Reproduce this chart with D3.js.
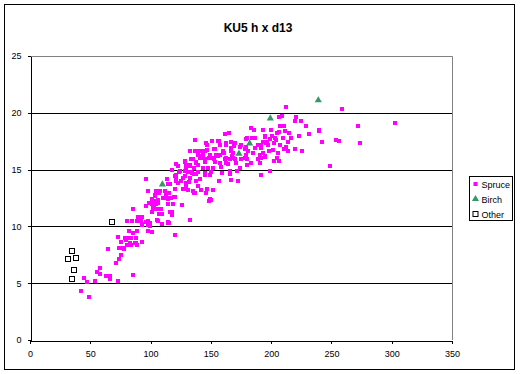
<!DOCTYPE html>
<html>
<head>
<meta charset="utf-8">
<script src="https://cdn.jsdelivr.net/npm/d3@7"></script>
<style>
  body { margin: 0; background: #fff; }
  text { font-family: "Liberation Sans", Arial, sans-serif; }
</style>
</head>
<body>
<svg id="chart" width="520" height="374"></svg>
<script>
// KU5 h x d13 scatter

var chartTitle = 'KU5 h x d13';
var seriesNames = ['Spruce', 'Birch', 'Other'];
var xTicks = [0, 50, 100, 150, 200, 250, 300, 350];
var yTicks = [0, 5, 10, 15, 20, 25];

// [d13, h]
var spruce = [
  [42.3,4.3],[48.9,3.8],[44.8,5.5],[47.3,5.1],[53.9,5.2],[55.6,6.0],[58,6.3],[58,5.8],[63,5.6],[66.3,5.6],
  [66.3,5.4],[73,5.2],[71.3,6.8],[73.8,7.1],[75.5,7.5],[73.8,8.1],[64.7,8.0],[75.5,8.6],[77.9,8.0],[80.4,8.4],
  [80.4,9.0],[83.7,8.4],[83.7,9.0],[82.1,9.6],[85.4,9.4],[87.9,9.0],[87.1,8.5],[88.7,8.4],[92.9,8.6],[85.4,5.7],
  [73,9.1],[88.7,9.6],[80.4,10.5],[84.6,10.5],[88.7,10.5],[89.6,10.8],[92.9,10.8],[92.9,10.2],[98.2,10.5],[98.2,10.2],
  [98.2,9.6],[101.2,9.5],[99.5,10.2],[85.4,11.5],[96.5,11.8],[98.7,12.1],[101.2,12.0],[101.5,11.3],[102.8,11.5],[103.7,12.2],
  [106.6,11.5],[109.5,10.2],[108.6,11.1],[106.6,11.1],[106.1,12.1],[103.7,12.8],[110.3,12.5],[112.8,12.8],[114.4,12.0],[115.3,10.3],
  [117.7,11.3],[118.5,12.0],[120.2,12.6],[120.2,9.2],[126,11.9],[132.7,10.6],[136,12.9],[148.4,12.2],[150.1,12.3],[146,12.9],
  [116,12.5],[107,12.9],[97.8,13.1],
  [104,12.8],[107.8,13.1],[114.4,13.7],[113.1,12.8],[100.9,12.4],[103.4,12.2],[99.3,12.1],[106.5,12.3],[114.4,12.4],[102.8,11.6],
  [108.9,11.5],[109.8,11.1],[106.5,10.5],[92.4,10.5],[96.5,10.4],[97.8,10.1],[93.2,10.1],[99.3,10.0],[109.8,10.2],[114.2,10.4],
  [85.2,9.4],[78.8,9.0],[84.1,9.0],[87.6,9.0],[79.9,8.8],[82.7,8.5],[88.2,8.5],[77.1,8.1],[96.5,14.2],[113.6,14.2],
  [121,15.5],[128.5,15.8],[134.3,15.9],[139.3,16.3],[143,16],[144.9,15.9],[148.4,16],[152.3,15.9],[157.3,16.3],[161.4,15.9],
  [165.6,15.9],[169.7,15.9],[175.3,15.9],[180,15.9],[129.1,15.4],[132.4,15.3],[139.3,15.4],[143.5,15.1],[147.6,15.1],[151.7,15.1],
  [158.1,15.2],[164.2,15.5],[174,15.1],[180,15.4],[118.1,15],[124.1,14.9],[128.3,14.9],[133.8,14.8],[139.3,14.8],[144.9,14.7],
  [149.8,14.8],[159.5,14.7],[166.2,14.9],[172,14.9],[120.8,14.5],[126.9,14.3],[132.4,14.3],[136,14.6],[140.7,14.2],[144.9,14.5],
  [149.6,14.5],[156.7,14],[165.6,14.6],[167,14.1],[172.5,14],[120.8,14.2],[116.4,13.7],[122.7,13.8],[129.7,13.8],[127.4,13.3],
  [131,13.2],[135.2,13.1],[136.6,12.9],[142.1,13.2],[146.8,13.3],[151.7,13.2],[145.7,12.9],[149,12.4],[104.8,13.1],[111.7,13.1],
  [103.4,12.7],[115.3,12.9],[117.2,12.5],[111.7,12.5],[119.2,12.6],[101.5,12.2],[104.8,12],[118.6,12],[102,11.6],[106.1,11.5],
  [116.4,11.3],[118.1,11],[105.3,10.6],[114.4,10.3],[99.8,10.3],
  [136.9,17.6],[132.7,16.6],[138.8,16.6],[128.5,15.7],[133.8,15.9],[138,15.6],[123,15.3],[132.4,15.4],[129.7,15.1],[135.7,15.1],
  [117.7,15],[123.6,14.8],[131,14.8],[134.7,14.7],[120.2,14.4],[128.3,14.4],[138,14.6],[120.8,14],[125.5,14],[131.8,13.9],
  [137.4,14],[115.8,13.7],[129.1,13.6],[139.3,13.6],[120,13.3],[126.9,13.3],
  [164.8,18.2],[161.7,18.1],[146.3,17.3],[151.2,17.5],[156.7,17.5],[167,17.4],[169.7,17.3],[179.4,17.7],[136.6,16.6],[142.1,16.6],
  [146.8,16.7],[152.3,16.8],[157.3,17.2],[162.8,17.3],[167,16.9],[174.5,17],[143.5,16.3],[149,16.3],[154.6,16.3],[160.6,16.5],
  [168.3,16.5],[135.2,15.9],[140.7,16],[151.7,16],[162.8,16],[168.3,16],[179.4,16.3],[178,16.8],
  [183.6,18.7],[185.7,18.5],[193.2,18.5],[194.6,17.9],[179.7,17.8],[184.1,17.8],[186.9,17.8],[155.8,17.5],[175.3,17.2],[189,17.2],
  [196,17.3],[146.5,17.2],[162.8,17.2],[169.2,17.1],[179.4,17],[186.3,16.9],[191.9,16.9],[140.1,16.6],[145,16.6],[153.7,16.8],
  [160,16.6],[166.4,16.6],[180.8,16.6],[184.9,16.5],[190.5,16.3],[194.6,16.2],[142.1,16.2],[155.8,16.2],[167.5,16.2],[178,16],
  [189,15.9],[138,15.7],[145,15.7],[153.2,15.7],[157.3,15.6],[162.8,15.6],[171.1,15.6],[183.6,15.6],
  [212.3,20.5],[258.7,20.3],[220.6,19.6],[206.5,19.6],[208.7,19.7],[219.7,19.3],[224.7,19.3],[302.6,19.1],[272,18.8],[207.3,18.8],
  [210.6,18.8],[228.9,18.8],[199.8,18.5],[206.5,18.3],[211.4,18.4],[214.8,18.2],[239.6,18.5],[239.6,18.4],[231.3,18.1],[223,18],
  [194.9,18],[204.8,18.2],[200.7,18],[216.4,17.8],[209.8,17.8],[203.2,17.8],[199.1,17.7],[193.2,17.4],[196.5,17.4],[204,17.6],
  [213.9,17.4],[242,17.4],[253.7,17.6],[256.2,17.5],[273.6,17.3],[191.5,17.2],[197.4,17.2],[202.3,17.3],[207.3,17.2],[212.3,17],
  [210.6,16.8],[219.7,16.8],[225.5,16.6],[213.9,16.6],[205.6,16.5],[201.5,16.7],[198.2,16.6],[193.2,16.5],[191.5,16],[194.9,16.1],
  [202.3,15.8],[206.5,15.8],[204.8,16],[248.8,15.3],[199.1,14.9],[191.5,14.5],[190.4,15.6]
];

var birch = [[109.8,13.7],[173.3,16.4],[182.2,17.3],[199.3,19.5],[239.1,21.1]];

var other = [[34.8,7.8],[31.8,7.1],[37.9,7.2],[36.2,6.2],[34.8,5.4],[68,10.4]];

var svg = d3.select('#chart');

var plotLeft = 30, plotRight = 452, plotTop = 56, plotBottom = 340;

var x = d3.scaleLinear().domain([0, 350]).range([plotLeft, plotRight]);
var y = d3.scaleLinear().domain([0, 25]).range([plotBottom, plotTop]);

// outer chart border
svg.append('rect')
    .attr('x', 4.5).attr('y', 4.5)
    .attr('width', 510).attr('height', 365)
    .attr('fill', '#fff')
    .attr('stroke', '#000');

svg.append('text')
    .attr('x', 258).attr('y', 32)
    .attr('text-anchor', 'middle')
    .style('font-size', '12px')
    .style('font-weight', 'bold')
    .text(chartTitle);

// gridlines
svg.append('g')
    .selectAll('line')
    .data(yTicks.slice(1, -1))
    .enter()
    .append('line')
    .attr('x1', plotLeft).attr('x2', plotRight)
    .attr('y1', function (d) { return Math.round(y(d)) + 0.5; })
    .attr('y2', function (d) { return Math.round(y(d)) + 0.5; })
    .attr('stroke', '#000');

// top / right plot border in grey
svg.append('path')
    .attr('d', 'M' + plotLeft + ',' + (plotTop + 0.5) + 'H' + (plotRight + 0.5) + 'V' + plotBottom)
    .attr('fill', 'none')
    .attr('stroke', '#808080');

var xAxis = svg.append('g')
    .attr('transform', 'translate(0,' + (plotBottom + 0.5) + ')')
    .call(d3.axisBottom(x).tickValues(xTicks).tickSize(3).tickPadding(7).tickSizeOuter(0));

var yAxis = svg.append('g')
    .attr('transform', 'translate(' + (plotLeft + 0.5) + ',0)')
    .call(d3.axisLeft(y).tickValues(yTicks).tickSize(3).tickPadding(6).tickSizeOuter(0));

[xAxis, yAxis].forEach(function (a) {
    a.selectAll('path, line').attr('stroke', '#000').attr('shape-rendering', 'crispEdges');
    a.selectAll('text').style('font-size', '9px').attr('fill', '#000')
        .style('font-family', '"Liberation Sans", Arial, sans-serif');
});

// points
svg.append('g')
    .selectAll('rect')
    .data(spruce)
    .enter()
    .append('rect')
    .attr('x', function (d) { return Math.round(x(d[0])) - 2; })
    .attr('y', function (d) { return Math.round(y(d[1])) - 2; })
    .attr('width', 4).attr('height', 4)
    .attr('fill', '#ff00ff')
    .attr('shape-rendering', 'crispEdges');

svg.append('g')
    .selectAll('rect')
    .data(other)
    .enter()
    .append('rect')
    .attr('x', function (d) { return Math.round(x(d[0])) - 2.5; })
    .attr('y', function (d) { return Math.round(y(d[1])) - 2.5; })
    .attr('width', 5).attr('height', 5)
    .attr('fill', '#fff')
    .attr('stroke', '#000')
    .attr('shape-rendering', 'crispEdges');

var tri = d3.symbol().type(d3.symbolTriangle).size(22);

svg.append('g')
    .selectAll('path')
    .data(birch)
    .enter()
    .append('path')
    .attr('d', tri)
    .attr('transform', function (d) {
        return 'translate(' + x(d[0]) + ',' + y(d[1]) + ')';
    })
    .attr('fill', '#339966');

// legend
var legend = svg.append('g').attr('transform', 'translate(469.5,176.5)');

legend.append('rect')
    .attr('width', 43).attr('height', 44)
    .attr('fill', '#fff')
    .attr('stroke', '#000');

var items = legend.selectAll('g.item')
    .data(seriesNames)
    .enter()
    .append('g')
    .attr('class', 'item')
    .attr('transform', function (d, i) { return 'translate(6,' + (7.5 + i * 15) + ')'; });

items.each(function (d, i) {
    var g = d3.select(this);
    if (i === 0) {
        g.append('rect').attr('x', -2).attr('y', -2).attr('width', 4).attr('height', 4)
            .attr('fill', '#ff00ff');
    } else if (i === 1) {
        g.append('path').attr('d', tri).attr('fill', '#339966');
    } else {
        g.append('rect').attr('x', -2.5).attr('y', -2.5).attr('width', 5).attr('height', 5)
            .attr('fill', '#fff').attr('stroke', '#000');
    }
});

items.append('text')
    .attr('x', 6)
    .attr('y', 3.5)
    .style('font-size', '9px')
    .text(function (d) { return d; });
</script>
</body>
</html>
